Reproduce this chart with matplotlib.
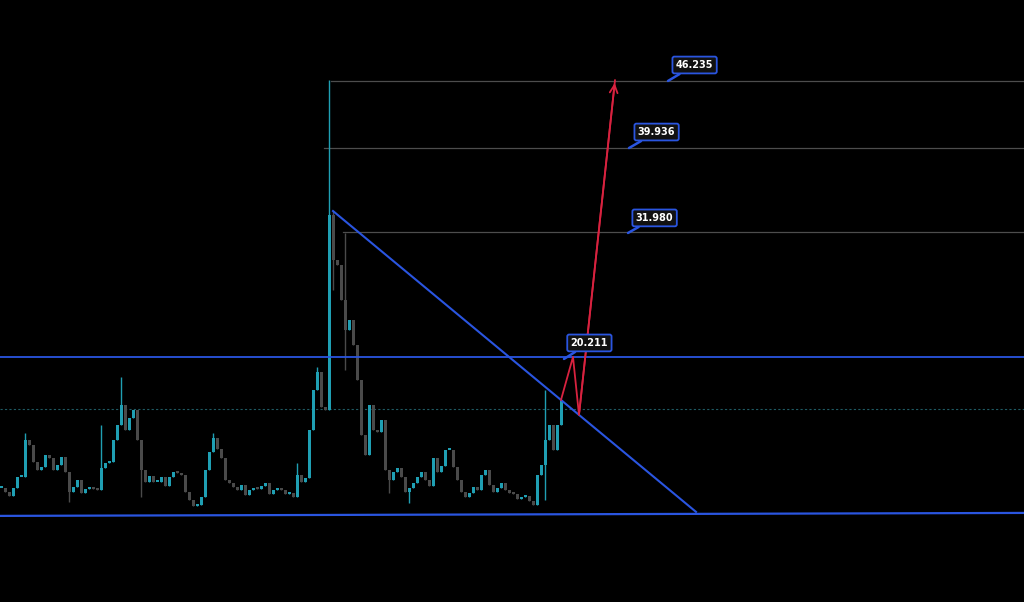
import matplotlib
matplotlib.use('Agg')
import matplotlib.pyplot as plt
import numpy as np

# closes, one candle per 4 px of the reference
closes = [7.86, 7.48, 7.10, 7.86, 8.90, 8.90, 12.39, 11.91, 10.31, 9.56,
          9.84, 10.97, 10.69, 9.56, 10.03, 10.78, 9.37, 7.48, 7.95, 8.61,
          7.39, 7.76, 7.86, 7.76, 7.67, 9.75, 10.22, 10.31, 12.39, 13.80,
          15.69, 13.33, 14.46, 15.21, 12.39, 9.56, 8.42, 8.99, 8.42, 8.42,
          8.90, 8.05, 8.90, 9.37, 9.27, 9.09, 7.48, 6.73, 6.16, 6.26,
          7.01, 9.56, 11.25, 12.57, 11.54, 10.69, 8.61, 8.33, 7.95, 7.67,
          8.14, 7.20, 7.67, 7.86, 7.76, 8.05, 8.33, 7.29, 7.67, 7.86,
          7.67, 7.29, 7.39, 7.01, 9.09, 8.42, 8.80, 13.33, 17.10, 18.80,
          15.50, 15.21, 33.60, 29.36, 28.88, 25.58, 22.76, 23.70, 21.34, 18.04,
          12.86, 10.97, 15.69, 13.33, 13.14, 14.27, 9.56, 8.61, 9.37, 9.75,
          8.90, 7.48, 7.86, 8.33, 8.90, 9.37, 8.61, 8.05, 10.69, 9.37,
          9.93, 11.44, 11.44, 9.84, 8.61, 7.48, 7.01, 7.39, 7.95, 7.67,
          9.09, 9.56, 8.14, 7.48, 7.86, 8.33, 7.67, 7.39, 7.29, 6.82,
          7.01, 7.10, 6.63, 6.26, 9.09, 10.03, 12.39, 13.80, 11.44, 13.80,
          16.16]
# long wicks: index -> (high, low)
wicks = {6: (13.04, None), 17: (None, 6.54), 25: (13.80, None), 30: (18.32, None),
         35: (None, 7.01), 53: (13.04, None), 74: (10.22, None), 79: (19.27, None),
         82: (46.33, None), 83: (33.97, 26.53), 86: (31.90, 18.99), 97: (None, 7.39),
         102: (None, 6.44), 136: (17.10, 6.73)}

levels = [46.235, 39.936, 31.980]
level_start = [82.5, 80.75, 85.5]
resistance = 20.211
dotted = 15.31
support = [(0, 5.22), (256, 5.50)]
trend = [(83, 33.97), (173.75, 5.60)]
path_x = [140, 143, 144.5, 153.5]
path_y = [16.16, 20.21, 14.74, 46.3]
labels = ['46.235', '39.936', '31.980', '20.211']
label_xy = [(166.75, 46.235), (157, 39.91), (156.75, 31.90), (140.75, 20.02)]
label_box = [(173.4, 47.74), (163.9, 41.42), (163.4, 33.32), (147.1, 21.53)]

up_col = '#1f9fb3'
dn_col = '#4a4a4a'
blue = '#2a55e0'
red = '#d8223f'

fig = plt.figure(figsize=(10.24, 6.02), dpi=100, facecolor='black')
ax = fig.add_axes([0, 0, 1, 1])
ax.set_facecolor('black')
ax.set_xlim(-0.25, 255.75)
ax.set_ylim(-2.9, 53.87)
ax.axis('off')

# level lines
for lv, xs in zip(levels, level_start):
    ax.plot([xs, 256], [lv, lv], color='#4d4d4d', lw=0.9, zorder=1)
ax.axhline(dotted, color='#1f5a63', lw=0.8, ls=(0, (2, 2)), zorder=1)
ax.axhline(resistance, color=blue, lw=1.3, zorder=3)
ax.plot([p[0] for p in support], [p[1] for p in support], color=blue, lw=1.6, zorder=3)

# candles
opens = [closes[0]] + closes[:-1]
for i, (o, c) in enumerate(zip(opens, closes)):
    col = up_col if c >= o else dn_col
    hi, lo = max(o, c), min(o, c)
    if i in wicks:
        h, l = wicks[i]
        hi = h if h is not None else hi
        lo = l if l is not None else lo
    ax.vlines(i, lo, hi, color=col, lw=1.0, zorder=2)
    ax.bar(i, max(abs(c - o), 0.15), bottom=min(o, c), width=0.75, color=col,
           linewidth=0, zorder=2)

ax.plot([p[0] for p in trend], [p[1] for p in trend], color=blue, lw=1.5, zorder=3)

# projected path
ax.plot(path_x, path_y, color=red, lw=1.3, zorder=4)
ax.annotate('', xy=(path_x[-1], path_y[-1]), xytext=(path_x[-2], path_y[-2]),
            arrowprops=dict(arrowstyle='->', color=red, lw=1.3, mutation_scale=14),
            zorder=4)

for t, xy, box in zip(labels, label_xy, label_box):
    ax.annotate(t, xy=xy, xytext=box, ha='center', va='center', color='white',
                fontsize=7, fontweight='bold', family='DejaVu Sans',
                bbox=dict(boxstyle='round,pad=0.35,rounding_size=0.2', fc='#111111',
                          ec=blue, lw=1.3),
                arrowprops=dict(arrowstyle='-', color=blue, lw=1.8,
                                shrinkA=0, shrinkB=0), zorder=5)

plt.savefig('out.png', dpi=100, facecolor='black')
